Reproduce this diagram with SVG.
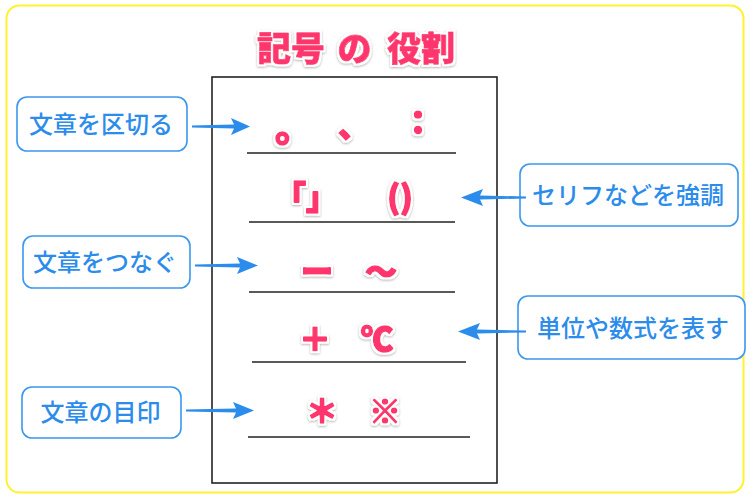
<svg xmlns="http://www.w3.org/2000/svg" width="750" height="500" viewBox="0 0 750 500">
<defs>
<filter id="sh" x="-30%" y="-30%" width="160%" height="160%">
<feMorphology in="SourceAlpha" operator="dilate" radius="2.2" result="d"/>
<feGaussianBlur in="d" stdDeviation="1" result="b"/>
<feOffset in="b" dy="1.2" result="o"/>
<feFlood flood-color="#777" flood-opacity="0.55"/>
<feComposite in2="o" operator="in" result="s"/>
<feFlood flood-color="#fff"/>
<feComposite in2="d" operator="in" result="w"/>
<feMerge><feMergeNode in="s"/><feMergeNode in="w"/><feMergeNode in="SourceGraphic"/></feMerge>
</filter>
<style>
.box{fill:#fff;stroke:#3A97EE;stroke-width:1.6}
.lbl{font-family:"Noto Sans CJK JP","Noto Sans",sans-serif;font-size:24px;font-weight:500;fill:#2B8CEB}
.sym{font-family:"Noto Sans CJK JP","Noto Sans",sans-serif;font-weight:900;font-size:32px;fill:#FF3670;stroke:#FF3670;stroke-width:1.6;stroke-linejoin:round;filter:url(#sh)}
.ttl{font-family:"Noto Sans CJK JP","Noto Sans",sans-serif;font-weight:900;font-size:34px;fill:#FF3670;stroke:#FF3670;stroke-width:0.8;stroke-linejoin:round;filter:url(#sh)}
.sep{stroke:#222;stroke-width:1.6}
.arr{fill:#2B8CEB}
</style>
</defs>
<rect x="6.5" y="5.5" width="737" height="487" rx="13" fill="#fff" stroke="#FFF22E" stroke-width="2"/>
<g id="title">
<text class="ttl" x="257" y="61">記号</text>
<text class="ttl" x="354.5" y="61" text-anchor="middle">の</text>
<text class="ttl" x="455" y="61" text-anchor="end">役割</text>
</g>
<g id="panel">
<rect x="212" y="77" width="285" height="406" fill="none" stroke="#222" stroke-width="1.6"/>
<line class="sep" x1="247" y1="153" x2="456" y2="153"/>
<line class="sep" x1="249" y1="222" x2="455" y2="222"/>
<line class="sep" x1="249" y1="292" x2="455" y2="292"/>
<line class="sep" x1="252" y1="362" x2="466" y2="362"/>
<line class="sep" x1="248" y1="437" x2="470" y2="437"/>
</g>
<g id="row1">
<text class="sym" x="294" y="141" text-anchor="middle" style="font-size:38px">。</text>
<text class="sym" x="354" y="137" text-anchor="middle">、</text>
<text class="sym" x="418" y="134" text-anchor="middle">：</text>
</g>
<g id="row2">
<text class="sym" x="306" y="209" text-anchor="middle">「」</text>
<text class="sym" x="400" y="209" text-anchor="middle">()</text>
</g>
<g id="row3">
<text class="sym" x="317" y="283" text-anchor="middle">ー</text>
<text class="sym" x="381" y="283" text-anchor="middle">～</text>
</g>
<g id="row4">
<text class="sym" x="315" y="351" text-anchor="middle">＋</text>
<text class="sym" x="377" y="351" text-anchor="middle">℃</text>
</g>
<g id="row5">
<text class="sym" x="322" y="423" text-anchor="middle">＊</text>
<text class="sym" x="385" y="423" text-anchor="middle">※</text>
</g>
<g id="n1">
<rect class="box" x="17" y="97" width="170" height="54" rx="10"/>
<text class="lbl" x="101" y="133" text-anchor="middle">文章を区切る</text>
</g>
<g id="n2">
<rect class="box" x="23" y="236" width="167" height="52" rx="10"/>
<text class="lbl" x="105" y="271" text-anchor="middle">文章をつなぐ</text>
</g>
<g id="n3">
<rect class="box" x="22" y="387" width="159" height="51" rx="10"/>
<text class="lbl" x="100.5" y="421" text-anchor="middle">文章の目印</text>
</g>
<g id="n4">
<rect class="box" x="520" y="164" width="218" height="62" rx="10"/>
<text class="lbl" x="628" y="204" text-anchor="middle">セリフなどを強調</text>
</g>
<g id="n5">
<rect class="box" x="518" y="296" width="227" height="63" rx="10"/>
<text class="lbl" x="633" y="337" text-anchor="middle">単位や数式を表す</text>
</g>
<g id="connectors">
<path class="arr" d="M192,125.5 L234,124.5 L231,118 L250,126.5 L231,135 L234,128.5 L192,127.5 Z"/>
<path class="arr" d="M195,264.5 L240,263.5 L237,257 L258,265.5 L237,274 L240,267.5 L195,266.5 Z"/>
<path class="arr" d="M186,409.5 L236,408.5 L233,402 L254,410.5 L233,419 L236,412.5 L186,411.5 Z"/>
<path class="arr" d="M526,196.5 L480,195.5 L483,189 L461,197.5 L483,206 L480,199.5 L526,198.5 Z"/>
<path class="arr" d="M526,330.5 L477,329.5 L480,323 L458,331.5 L480,340 L477,333.5 L526,332.5 Z"/>
</g>
</svg>
